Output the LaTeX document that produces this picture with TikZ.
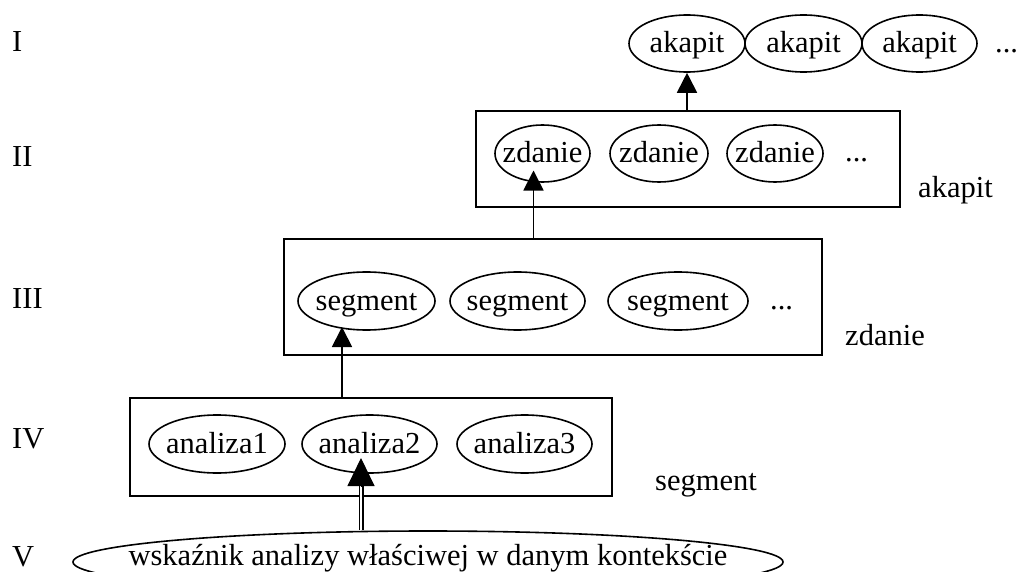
\documentclass[tikz,border=0pt]{standalone}
\usepackage{fontspec}
\setmainfont{Liberation Serif}
\usetikzlibrary{shapes.geometric,arrows.meta,calc}
\newcommand\zb[1]{\makebox[0pt]{#1}}
\begin{document}
\begin{tikzpicture}[x=1pt,y=-1pt,
  every node/.style={font=\fontsize{30.5}{36}\selectfont},
  ov/.style={draw, ellipse, line width=1.6pt, inner sep=0pt, text height=21pt, text depth=2pt, minimum height=57pt},
  box/.style={draw, rectangle, line width=1.8pt, inner sep=0pt},
  lbl/.style={anchor=base west, inner sep=0pt},
  conn/.style={line width=1.8pt, -{Triangle[length=20pt,width=20pt]}},
]
\useasboundingbox (0,0) rectangle (1019,572);

% level labels
\node[lbl] (r1) at (12,52) {I};
\node[lbl] (r2) at (12,167) {II};
\node[lbl] (r3) at (12,308) {III};
\node[lbl] (r4) at (12,448) {IV};
\node[lbl] (r5) at (12,566) {V};

% boxes
\node[box, minimum width=424pt, minimum height=96pt] (b2) at (688,159) {};
\node[box, minimum width=538pt, minimum height=116pt] (b3) at (553,297) {};
\node[box, minimum width=482pt, minimum height=98pt] (b4) at (371,447) {};

% level I
\node[ov, minimum width=116pt] (ak1) at (687,43.5) {\zb{akapit}};
\node[ov, minimum width=117pt] (ak2) at (803.5,43.5) {\zb{akapit}};
\node[ov, minimum width=115pt] (ak3) at (919.5,43.5) {\zb{akapit}};
\node[lbl] (akd) at (995,53) {...};

% level II
\node[ov, minimum width=95pt] (zd1) at (542.5,153.5) {\zb{zdanie}};
\node[ov, minimum width=98pt] (zd2) at (659,153.5) {\zb{zdanie}};
\node[ov, minimum width=96pt] (zd3) at (775,153.5) {\zb{zdanie}};
\node[lbl] (zdd) at (845,162) {...};
\node[lbl] (l2) at (918,197) {akapit};

% level III
\node[ov, minimum width=137pt, minimum height=58pt] (sg1) at (366.5,301) {\zb{segment}};
\node[ov, minimum width=135pt, minimum height=58pt] (sg2) at (517.5,301) {\zb{segment}};
\node[ov, minimum width=140pt, minimum height=58pt] (sg3) at (678,301) {\zb{segment}};
\node[lbl] (sgd) at (770,309) {...};
\node[lbl] (l3) at (845,345) {zdanie};

% level IV
\node[ov, minimum width=136pt, minimum height=58pt] (an1) at (217,444) {\zb{analiza1}};
\node[ov, minimum width=135pt, minimum height=58pt] (an2) at (369.5,444) {\zb{analiza2}};
\node[ov, minimum width=135pt, minimum height=58pt] (an3) at (524.5,444) {\zb{analiza3}};
\node[lbl] (l4) at (655,490) {segment};

% level V
\node[draw, ellipse, line width=1.6pt, inner sep=0pt, text height=21pt, text depth=15pt,
      minimum width=710pt, minimum height=62pt] (wsk) at (428,562)
      {\zb{wskaźnik analizy właściwej w danym kontekście}};

% connectors
\draw[conn] (ak1.south |- b2.north) -- (ak1.south);
\coordinate (t2) at ($(zd1.center)+(-9,17)$);
\draw[conn] (t2 |- b3.north) -- (t2);
\coordinate (t3) at ($(sg1.center)+(-24.5,26)$);
\draw[conn] (t3 |- b4.north) -- (t3);
\coordinate (t4) at ($(an2.center)+(-8.5,14)$);
\coordinate (t4b) at ($(t4)+(0,28)$);
\draw[line width=1.3pt, double, double distance=2.4pt] (t4 |- wsk.north) -- (t4b);
\draw[line width=1pt, -{Triangle[length=28pt,width=27pt]}] (t4b) -- (t4);
\end{tikzpicture}
\end{document}
